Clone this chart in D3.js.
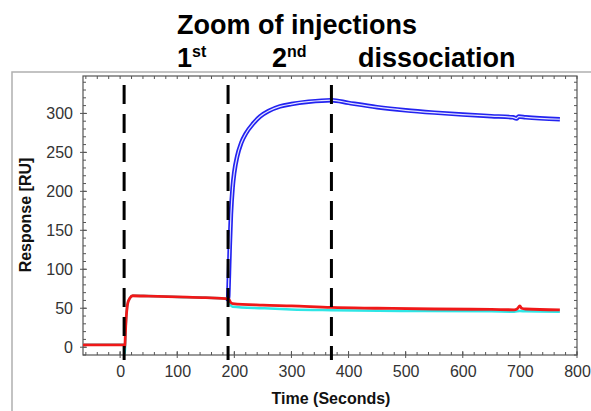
<!DOCTYPE html>
<html>
<head>
<meta charset="utf-8">
<script src="https://d3js.org/d3.v7.min.js"></script>
<style>
    body { margin: 0; background: #fff; }
    text { font-family: "Liberation Sans", Arial, sans-serif; }
    .tick-label { font-size: 16px; fill: #333; }
    .axis-title { font-size: 16px; font-weight: bold; fill: #111; }
    .title { font-size: 27px; font-weight: bold; fill: #000; }
</style>
</head>
<body>
<div id="vis"></div>
<script>
    // sensorgram traces (time in s, response in RU)
    var redT = [-65, 7, 8, 10, 13, 17, 22, 50, 100, 150, 190, 193, 197, 250, 300, 370, 450, 550, 650, 690, 695, 700, 703, 710, 770];
    var redV = [3, 3, 0, 30, 55, 63, 66, 65.5, 64.5, 63.5, 62, 58, 56, 54, 53, 51, 50, 49, 48.5, 48, 49, 53, 50, 49, 48];

    var cyanT = [-65, 7, 8, 10, 13, 17, 22, 100, 190, 193, 197, 250, 300, 370, 500, 650, 690, 700, 710, 770];
    var cyanV = [3, 3, -8, 30, 55, 63, 66, 64.5, 62, 55, 52, 50, 48.5, 47.5, 46.5, 46, 45.5, 46.5, 46, 45.5];

    // blue sits under red until the 2nd injection
    var blueT = [186, 189, 190, 191, 192, 194, 197, 200, 205, 212, 220, 233, 245, 260, 280, 300, 330, 370, 400, 450, 500, 550, 600, 650, 688, 694, 698, 710, 770];
    var blueV = [62.5, 62, 80, 105, 130, 170, 205, 225, 245, 262, 274, 287, 296, 303, 309, 312, 315, 317, 313.5, 308, 304, 301, 298.5, 296.5, 295, 293.5, 296, 295, 292.5];

    var injections = [7, 189, 370];

    var xTicks = [0, 100, 200, 300, 400, 500, 600, 700, 800];
    var yTicks = [0, 50, 100, 150, 200, 250, 300];

    var width = 591, height = 411;
    var plotL = 83, plotR = 577, plotT = 76, plotB = 355;

    var svg = d3.select("#vis").append("svg")
        .attr("width", width)
        .attr("height", height);

    var x = d3.scaleLinear().domain([-65, 800]).range([plotL, plotR]);
    var y = d3.scaleLinear().domain([-10, 348]).range([plotB, plotT]);

    // light outer border of the slide picture
    svg.append("rect")
        .attr("x", 12).attr("y", 72)
        .attr("width", 700).attr("height", 500)
        .attr("fill", "none")
        .attr("stroke", "#b0b0b0")
        .attr("stroke-width", 1.5);

    // titles
    svg.append("text").attr("class", "title")
        .attr("x", 177).attr("y", 34)
        .text("Zoom of injections");

    var sub = svg.append("text").attr("class", "title").attr("y", 67);
    sub.append("tspan").attr("x", 177).text("1");
    sub.append("tspan").attr("dy", -10).style("font-size", "16px").text("st");
    sub.append("tspan").attr("x", 272).attr("dy", 10).text("2");
    sub.append("tspan").attr("dy", -10).style("font-size", "16px").text("nd");
    sub.append("tspan").attr("x", 358).attr("dy", 10).text("dissociation");

    // minor ticks all round the frame
    var minorX = d3.range(-60, 801, 20);
    var minorY = d3.range(-10, 341, 10);
    var tk = svg.append("g").attr("stroke", "#555").attr("stroke-width", 1);

    minorX.forEach(function(v) {
        tk.append("line").attr("x1", x(v)).attr("x2", x(v)).attr("y1", plotB).attr("y2", plotB - 3);
        tk.append("line").attr("x1", x(v)).attr("x2", x(v)).attr("y1", plotT).attr("y2", plotT + 3);
    });
    minorY.forEach(function(v) {
        tk.append("line").attr("y1", y(v)).attr("y2", y(v)).attr("x1", plotL).attr("x2", plotL + 3);
        tk.append("line").attr("y1", y(v)).attr("y2", y(v)).attr("x1", plotR).attr("x2", plotR - 3);
    });

    // major ticks crossing the axes
    xTicks.forEach(function(v) {
        tk.append("line").attr("x1", x(v)).attr("x2", x(v)).attr("y1", plotB + 3).attr("y2", plotB - 4);
    });
    yTicks.forEach(function(v) {
        tk.append("line").attr("y1", y(v)).attr("y2", y(v)).attr("x1", plotL - 3).attr("x2", plotL + 4);
    });

    // tick labels via d3 axes (lines hidden, text only)
    var xAxis = svg.append("g")
        .attr("transform", "translate(0," + plotB + ")")
        .call(d3.axisBottom(x).tickValues(xTicks).tickSize(0).tickPadding(11));
    var yAxis = svg.append("g")
        .attr("transform", "translate(" + plotL + ",0)")
        .call(d3.axisLeft(y).tickValues(yTicks).tickSize(0).tickPadding(10));
    [xAxis, yAxis].forEach(function(a) {
        a.attr("font-size", null).attr("font-family", null);
        a.select(".domain").remove();
        a.selectAll("text").attr("class", "tick-label");
    });

    // frame
    svg.append("rect")
        .attr("x", plotL).attr("y", plotT)
        .attr("width", plotR - plotL).attr("height", plotB - plotT)
        .attr("fill", "none")
        .attr("stroke", "#555")
        .attr("stroke-width", 1.2);

    svg.append("text").attr("class", "axis-title")
        .attr("x", 331).attr("y", 404)
        .attr("text-anchor", "middle")
        .text("Time (Seconds)");

    svg.append("text").attr("class", "axis-title")
        .attr("transform", "translate(31,215) rotate(-90)")
        .attr("text-anchor", "middle")
        .text("Response [RU]");

    var line = d3.line()
        .x(function(d) { return x(d[0]); })
        .y(function(d) { return y(d[1]); })
        .curve(d3.curveMonotoneX);

    function pairs(t, v) { return t.map(function(d, i) { return [d, v[i]]; }); }

    // blue traces drawn hollow (two close curves)
    svg.append("path").datum(pairs(blueT, blueV))
        .attr("d", line).attr("fill", "none")
        .attr("stroke", "#2323f0").attr("stroke-width", 4.5);
    svg.append("path").datum(pairs(blueT, blueV))
        .attr("d", line).attr("fill", "none")
        .attr("stroke", "#e4e4ff").attr("stroke-width", 1.2);

    svg.append("path").datum(pairs(cyanT, cyanV))
        .attr("d", line).attr("fill", "none")
        .attr("stroke", "#2ee6e6").attr("stroke-width", 2.5);

    svg.append("path").datum(pairs(redT, redV))
        .attr("d", line).attr("fill", "none")
        .attr("stroke", "#f01818").attr("stroke-width", 2.8);

    // injection markers
    svg.selectAll(".inj").data(injections).enter().append("line")
        .attr("class", "inj")
        .attr("x1", function(d) { return x(d); })
        .attr("x2", function(d) { return x(d); })
        .attr("y1", 85).attr("y2", 360)
        .attr("stroke", "#000")
        .attr("stroke-width", 3)
        .attr("stroke-dasharray", "19,10");
</script>
</body>
</html>
